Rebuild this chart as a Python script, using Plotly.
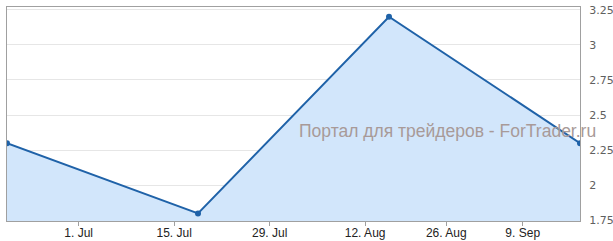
import numpy as np
import pandas as pd
import plotly.graph_objects as go

# Data (ordinal axis: points equally spaced)
point_dates = ["2013-06-20 12:00", "2013-07-18 12:00", "2013-08-15 12:00", "2013-09-19 12:00"]
values = [2.3, 1.8, 3.2, 2.3]
tick_dates = ["2013-07-01", "2013-07-15", "2013-07-29", "2013-08-12", "2013-08-26", "2013-09-09"]
tick_labels = ["1. Jul", "15. Jul", "29. Jul", "12. Aug", "26. Aug", "9. Sep"]
y_ticks = [1.75, 2, 2.25, 2.5, 2.75, 3, 3.25]
y_tick_labels = ["1.75", "2", "2.25", "2.5", "2.75", "3", "3.25"]
watermark = "Портал для трейдеров - ForTrader.ru"

pt_ts = pd.to_datetime(point_dates).astype("int64").to_numpy()
tk_ts = pd.to_datetime(tick_dates).astype("int64").to_numpy()
idx = np.arange(len(values))
tick_pos = np.interp(tk_ts, pt_ts, idx)

line_color = "#1f62a8"
fig = go.Figure()
fig.add_trace(go.Scatter(
    x=idx, y=values, mode="lines+markers",
    line=dict(color=line_color, width=2),
    marker=dict(color=line_color, size=6),
    fill="tozeroy", fillcolor="#d2e6fb",
    hoverinfo="skip", showlegend=False,
))

fig.add_annotation(
    text=watermark, xref="paper", yref="paper",
    x=(598 - 7) / 573, y=(221.5 - 131) / 215, xanchor="right", yanchor="middle",
    showarrow=False,
    font=dict(family="Liberation Sans", size=17.5, color="#a89a98"),
)

fig.update_layout(
    width=613, height=241,
    margin=dict(l=7, r=33, t=7, b=20, autoexpand=False),
    paper_bgcolor="white", plot_bgcolor="white",
    xaxis=dict(
        range=[0, 3], tickmode="array", tickvals=tick_pos, ticktext=tick_labels,
        showgrid=False, zeroline=False, automargin=False,
        showline=True, linecolor="#a0a0a0", linewidth=1, mirror=True,
        ticks="outside", ticklen=4, tickcolor="#a0a0a0", ticklabelstandoff=-3,
        tickfont=dict(family="Liberation Sans", size=12, color="#222222"),
    ),
    yaxis=dict(
        side="right", range=[1.746, 3.269], tickmode="array",
        tickvals=y_ticks, ticktext=y_tick_labels, automargin=False,
        showgrid=True, gridcolor="#e6e6e6", gridwidth=1, zeroline=False,
        showline=True, linecolor="#a0a0a0", linewidth=1, mirror=True,
        ticks="", ticklabelstandoff=6,
        tickfont=dict(family="DejaVu Sans", size=11, color="#606060"),
    ),
)

fig.write_html("out.html")
